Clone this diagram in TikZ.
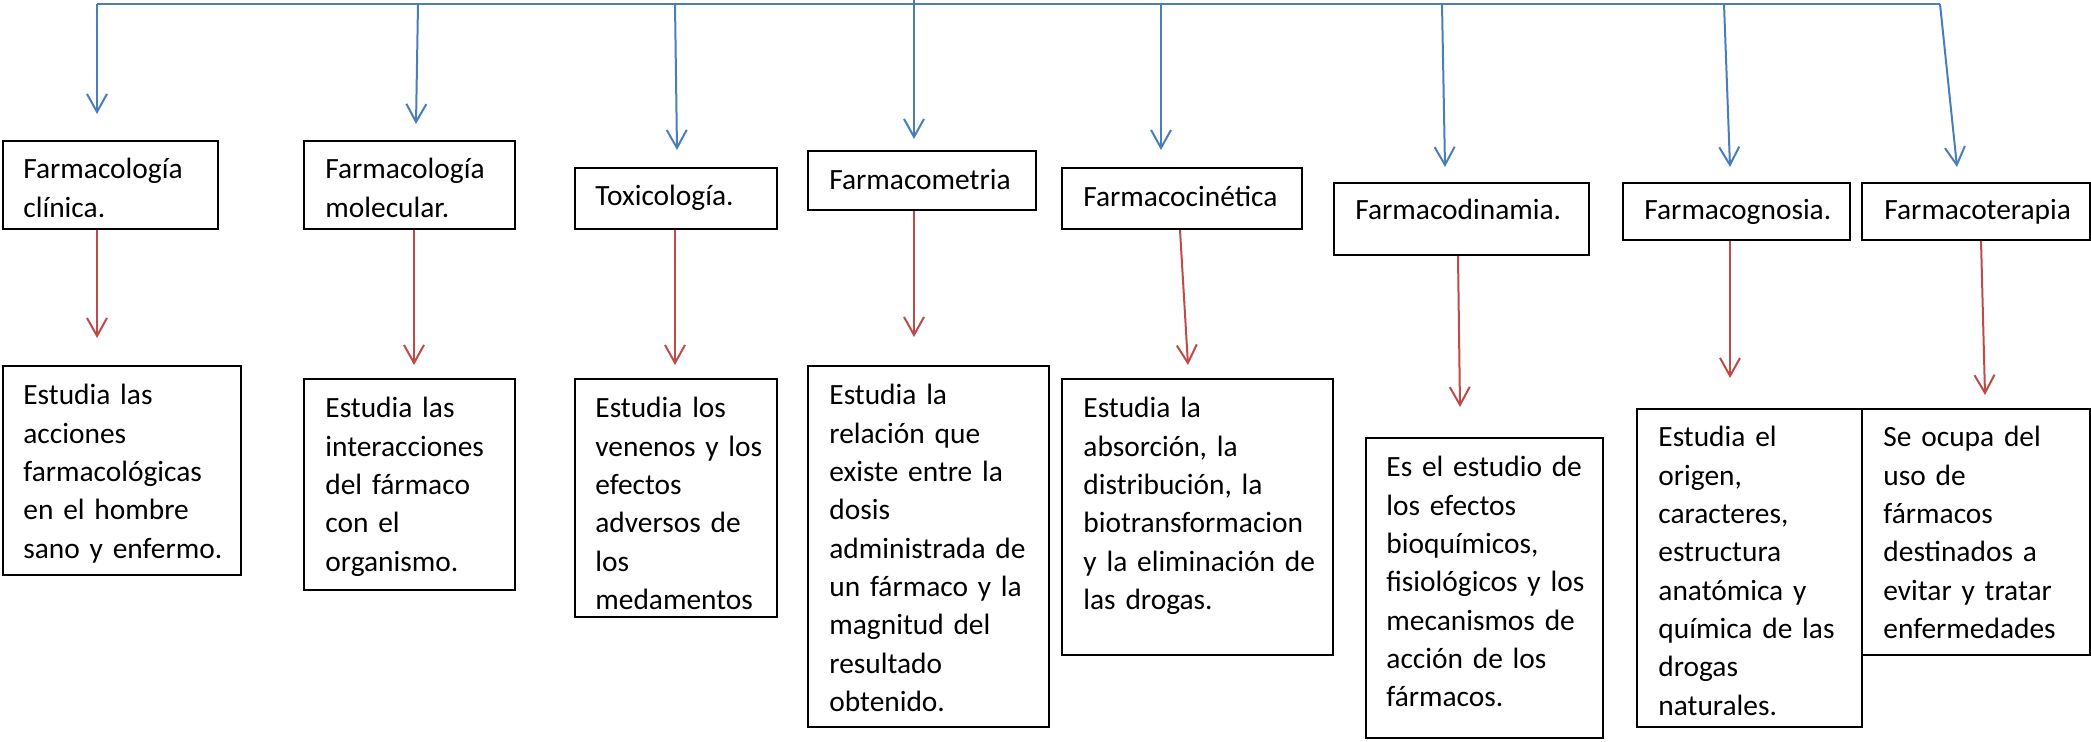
\documentclass[tikz,border=0pt]{standalone}
\usepackage{fontspec}
\setmainfont{Carlito}
\usetikzlibrary{arrows.meta,fit}
\definecolor{lblue}{HTML}{4A7EBB}
\definecolor{lred}{HTML}{BE4B48}
\begin{document}
\begin{tikzpicture}[x=0.5pt,y=-0.5pt,
  box/.style={draw=black, line width=1pt, inner sep=0pt, rectangle},
  txt/.style={anchor=base west, inner sep=0pt, align=left, text width=200pt,
    font=\fontsize{14.7}{19.15}\selectfont},
  bl/.style={draw=lblue, line width=1pt},
  ba/.style={bl, -{Straight Barb[length=9pt,width=10pt]}},
  ra/.style={draw=lred, line width=1pt, -{Straight Barb[length=9pt,width=10pt]}},
]
\useasboundingbox (0,0) rectangle (2091,742);

% title boxes
\node[box, fit={(3,141) (218,229)}] (t1) {};
\node[box, fit={(304,141) (515,229)}] (t2) {};
\node[box, fit={(575,168) (777,229)}] (t3) {};
\node[box, fit={(808,151) (1036,210)}] (t4) {};
\node[box, fit={(1062,168) (1302,229)}] (t5) {};
\node[box, fit={(1334,183) (1589,255)}] (t6) {};
\node[box, fit={(1623,183) (1850,240)}] (t7) {};
\node[box, fit={(1862,183) (2090,240)}] (t8) {};

\node[txt] (n1) at (23,179) {Farmacología\\clínica.};
\node[txt] (n2) at (325,179) {Farmacología\\molecular.};
\node[txt] (n3) at (595,206) {Toxicología.};
\node[txt] (n4) at (829,190) {Farmacometria};
\node[txt] (n5) at (1083,207) {Farmacocinética};
\node[txt] (n6) at (1355,220) {Farmacodinamia.};
\node[txt] (n7) at (1644,220) {Farmacognosia.};
\node[txt] (n8) at (1884,220) {Farmacoterapia};

% description boxes
\node[box, fit={(3,366) (241,575)}] (d1) {};
\node[box, fit={(304,379) (515,590)}] (d2) {};
\node[box, fit={(575,379) (777,617)}] (d3) {};
\node[box, fit={(808,366) (1049,727)}] (d4) {};
\node[box, fit={(1062,379) (1333,655)}] (d5) {};
\node[box, fit={(1366,438) (1603,738)}] (d6) {};
\node[box, fit={(1637,409) (1862,727)}] (d7) {};
\node[box, fit={(1862,409) (2090,655)}] (d8) {};

\node[txt] (m1) at (23,405) {Estudia las\\acciones\\farmacológicas\\en el hombre\\sano y enfermo.};
\node[txt] (m2) at (325,418) {Estudia las\\interacciones\\del fármaco\\con el\\organismo.};
\node[txt] (m3) at (595,418) {Estudia los\\venenos y los\\efectos\\adversos de\\los\\medamentos};
\node[txt] (m4) at (829,405) {Estudia la\\relación que\\existe entre la\\dosis\\administrada de\\un fármaco y la\\magnitud del\\resultado\\obtenido.};
\node[txt] (m5) at (1083,418) {Estudia la\\absorción, la\\distribución, la\\biotransformacion\\y la eliminación de\\las drogas.};
\node[txt] (m6) at (1386,477) {Es el estudio de\\los efectos\\bioquímicos,\\fisiológicos y los\\mecanismos de\\acción de los\\fármacos.};
\node[txt] (m7) at (1658,447) {Estudia el\\origen,\\caracteres,\\estructura\\anatómica y\\química de las\\drogas\\naturales.};
\node[txt] (m8) at (1883,447) {Se ocupa del\\uso de\\fármacos\\destinados a\\evitar y tratar\\enfermedades};

% top bar and blue arrows
\coordinate (b1) at (97,4);
\coordinate (b2) at (418,4);
\coordinate (b3) at (675,4);
\coordinate (b4) at (914,-6);
\coordinate (b5) at (1161,4);
\coordinate (b6) at (1442,4);
\coordinate (b7) at (1724,4);
\coordinate (b8) at (1940,4);
\coordinate (a1) at (97,114);
\coordinate (a2) at (416,124);
\coordinate (a3) at (677,150);
\coordinate (a4) at (914,139);
\coordinate (a5) at (1161,150);
\coordinate (a6) at (1445,167);
\coordinate (a7) at (1730,167);
\coordinate (a8) at (1957,167);
\draw[bl] (b1) -- (b8);
\foreach \i in {1,...,8}{\draw[ba] (b\i) -- (a\i);}

% red arrows
\coordinate (s1) at (97,229);   \coordinate (r1) at (97,338);
\coordinate (s2) at (414,229);  \coordinate (r2) at (414,365);
\coordinate (s3) at (675,229);  \coordinate (r3) at (675,365);
\coordinate (s4) at (914,210);  \coordinate (r4) at (914,337);
\coordinate (s5) at (1180,229); \coordinate (r5) at (1188,365);
\coordinate (s6) at (1458,255); \coordinate (r6) at (1460,407);
\coordinate (s7) at (1730,240); \coordinate (r7) at (1730,378);
\coordinate (s8) at (1981,240); \coordinate (r8) at (1985,395);
\foreach \i in {1,...,8}{\draw[ra] (t\i.south -| s\i) -- (r\i);}
\end{tikzpicture}
\end{document}
